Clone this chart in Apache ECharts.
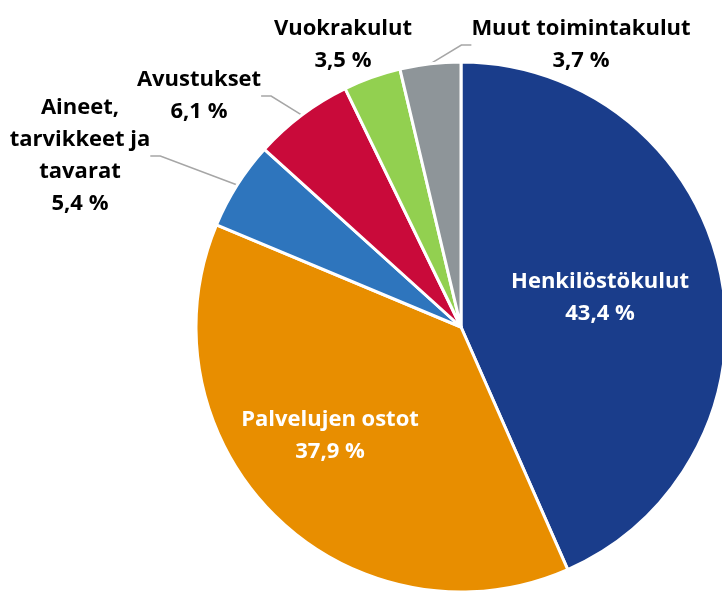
<!DOCTYPE html>
<html>
<head>
<meta charset="utf-8">
<script src="https://cdn.jsdelivr.net/npm/echarts@6/dist/echarts.min.js"></script>
<style>
  html, body { margin: 0; padding: 0; background: #fff; }
  #chart { width: 722px; height: 591px; }
</style>
</head>
<body>
<div id="chart"></div>
<script>
const categories = [
  "Henkilöstökulut",
  "Palvelujen ostot",
  "Aineet,\ntarvikkeet ja\ntavarat",
  "Avustukset",
  "Vuokrakulut",
  "Muut toimintakulut",
]
const shares = [43.4, 37.9, 5.4, 6.1, 3.5, 3.7]
const colors = ["#1a3d8b", "#e88e00", "#2e75bd", "#c90a3a", "#92d050", "#8e9599"]

// label block centres, chosen to mimic the original layout
const labelSpots = [
  [600, 298],
  [330, 436],
  [80, 156],
  [199, 96],
  [343, 45],
  [581, 45],
]
const insideLabels = [true, true, false, false, false, false]
const leaderLines = [false, false, true, true, false, true]

const chart = echarts.init(document.getElementById("chart"))

const fmt = (v) => v.toFixed(1).replace(".", ",") + " %"

chart.setOption({
  animation: false,
  backgroundColor: "#fff",
  textStyle: { fontFamily: "Open Sans" },
  series: [{
    type: "pie",
    center: [461, 327],
    radius: 265,
    startAngle: 90,
    clockwise: true,
    avoidLabelOverlap: false,
    itemStyle: { borderColor: "#fff", borderWidth: 3 },
    label: {
      show: true,
      fontFamily: "Open Sans",
      fontWeight: "bold",
      fontSize: 22,
      lineHeight: 32,
      align: "center",
      formatter: (p) => p.name + "\n" + fmt(p.value),
    },
    labelLine: { show: true, lineStyle: { color: "#a6a6a6", width: 1.5 }, length: 12, length2: 10 },
    labelLayout: (params) => {
      const [x, y] = labelSpots[params.dataIndex]
      return { x, y, align: "center", verticalAlign: "middle" }
    },
    data: categories.map((name, i) => ({
      name,
      value: shares[i],
      itemStyle: { color: colors[i] },
      label: {
        color: insideLabels[i] ? "#fff" : "#000",
        position: insideLabels[i] ? "inside" : "outside",
      },
      labelLine: { show: leaderLines[i] },
    })),
  }],
})
</script>
</body>
</html>
